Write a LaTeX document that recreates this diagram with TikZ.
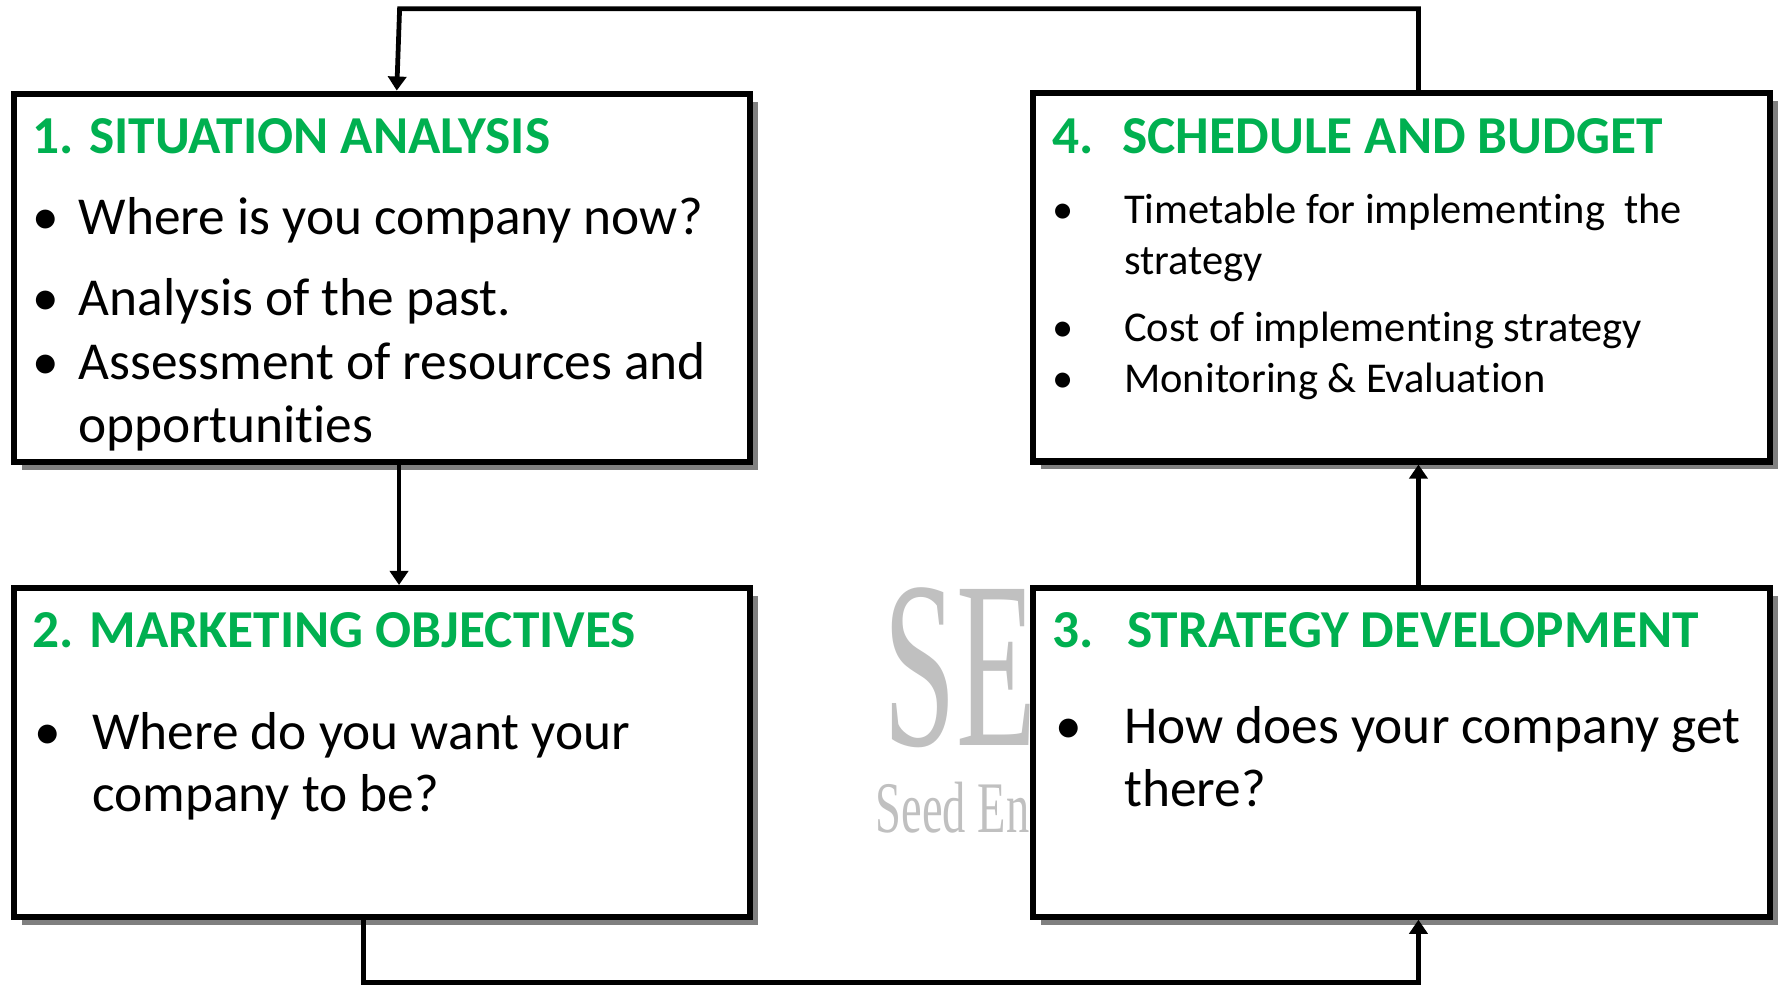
\documentclass[tikz,border=0pt]{standalone}
\usepackage{fontspec}
\setmainfont{Carlito}[Ligatures=NoCommon]
\newfontfamily\wmfont{Liberation Serif}
\usepackage{graphicx}
\usepackage{tikz}
\usetikzlibrary{arrows.meta,shadows}
\definecolor{titlegreen}{HTML}{00B050}
\definecolor{wmgray}{HTML}{C0C0C0}
\tikzset{
  box/.style={draw, line width=2.7pt, fill=white, inner sep=0pt, anchor=north west,
    minimum width=324.5pt, drop shadow={shadow xshift=3.5pt, shadow yshift=-3.5pt, opacity=1, fill=gray}},
  ttl/.style={anchor=base west, inner sep=0pt, text=titlegreen, font=\bfseries\fontsize{23.5}{28}\selectfont},
  txt/.style={anchor=base west, inner sep=0pt, font=\fontsize{23.5}{28}\selectfont},
  stxt/.style={anchor=base west, inner sep=0pt, font=\fontsize{18.7}{22}\selectfont},
  wm/.style={anchor=base west, inner sep=0pt, text=wmgray},
  conn/.style={line width=2.1pt, -{Triangle[length=6.2pt,width=8pt]}}
}
\begin{document}
\begin{tikzpicture}[x=0.5pt,y=-0.5pt]
\useasboundingbox (0,0) rectangle (1568,868);

% watermark
\node[wm, font=\wmfont\fontsize{105}{105}\selectfont] (wm1) at (778,657) {\scalebox{0.55}[1]{SE}};
\node[wm, font=\wmfont\fontsize{32}{32}\selectfont] (wm2) at (771,733.5) {\scalebox{0.64}[1]{Seed En}};

% boxes
\node[box, minimum height=162.25pt] (sit) at (9.3,79.8) {};
\node[box, minimum height=144.75pt] (mkt) at (9.3,515.3) {};
\node[box, minimum height=162.25pt] (sch) at (907.3,79.3) {};
\node[box, minimum height=144.75pt] (str) at (907.3,515.3) {};

% 1
\node[ttl] (t1) at (28,135.5) {1.\hspace{7pt}SITUATION ANALYSIS};
\node[txt] (d11) at (28,206.5) {\textbullet};
\node[txt] (s11) at (69,206.5) {Where is you company now?};
\node[txt] (d12) at (28,277.5) {\textbullet};
\node[txt] (s12) at (69,277.5) {Analysis of the past.};
\node[txt] (d13) at (28,334) {\textbullet};
\node[txt] (s13) at (69,334) {Assessment of resources and};
\node[txt] (s14) at (69,389.5) {opportunities};

% 2
\node[ttl] (t2) at (28,570.5) {2. MARKETING OBJECTIVES};
\node[txt] (d21) at (30,660) {\textbullet};
\node[txt] (s21) at (81,660) {Where do you want your};
\node[txt] (s22) at (81,715) {company to be?};

% 3
\node[ttl] (t3) at (927,570.5) {3.\hspace{14.5pt}STRATEGY DEVELOPMENT};
\node[txt] (d31) at (929,654.8) {\textbullet};
\node[txt] (s31) at (990,654.8) {How does your company get};
\node[txt] (s32) at (990,710.6) {there?};

% 4
\node[ttl] (t4) at (927,135.3) {4.\hspace{12.5pt}SCHEDULE AND BUDGET};
\node[stxt] (d41) at (927,197.3) {\textbullet};
\node[stxt] (s41) at (990,197.3) {Timetable for implementing\ \ the};
\node[stxt] (s42) at (990,242.2) {strategy};
\node[stxt] (d42) at (927,300.9) {\textbullet};
\node[stxt] (s43) at (990,300.9) {Cost of implementing strategy};
\node[stxt] (d43) at (927,346.1) {\textbullet};
\node[stxt] (s44) at (990,346.1) {Monitoring \& Evaluation};

% connectors
\coordinate (tl) at (352,7.8);
\draw[conn] ([xshift=7.5pt]sch.north) |- (tl) -- ([xshift=6.5pt]sit.north);
\draw[conn] ([xshift=7.5pt]sit.south) -- ([xshift=7.5pt]mkt.north);
\draw[conn] ([xshift=-8pt]mkt.south) -- ++(0,55.3) -| ([xshift=7.5pt]str.south);
\draw[conn] ([xshift=7.5pt]str.north) -- ([xshift=7.5pt]sch.south);
\end{tikzpicture}
\end{document}
